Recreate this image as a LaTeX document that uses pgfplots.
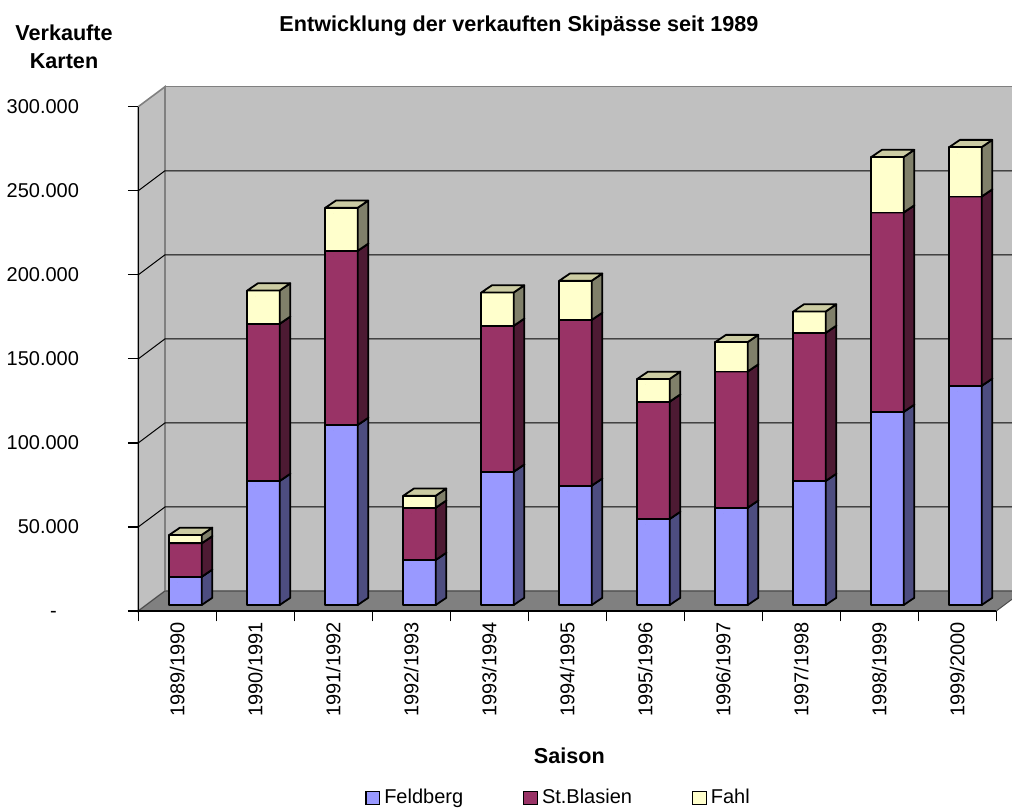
\documentclass[border=0pt]{standalone}
\usepackage{fontspec}
\setmainfont{Liberation Sans}
\usepackage{pgfplots}
\usepackage{pgfplotstable}
\pgfplotsset{compat=1.18}

\definecolor{feldF}{HTML}{9999FF}
\definecolor{feldS}{HTML}{4D4D80}
\definecolor{feldT}{HTML}{7A7ACC}
\definecolor{blasF}{HTML}{993366}
\definecolor{blasS}{HTML}{4D1A33}
\definecolor{blasT}{HTML}{7A2952}
\definecolor{fahlF}{HTML}{FFFFCC}
\definecolor{fahlS}{HTML}{80806A}
\definecolor{fahlT}{HTML}{CCCCA3}
\definecolor{wall}{HTML}{C0C0C0}
\definecolor{floorc}{HTML}{808080}

% segment values (sold passes) per season
\pgfplotstableread{
x Feldberg Blasien Fahl
0 16800 19900 5000
1 73800 93500 19800
2 107100 103600 25600
3 26800 31100 7100
4 79300 86800 19800
5 71000 98600 23300
6 51200 69800 13500
7 57900 81000 17500
8 73800 88100 12700
9 114900 118600 33000
10 130400 112600 29400
}\skidata
\pgfplotstablecreatecol[expr={\thisrow{Feldberg}+\thisrow{Blasien}}]{topB}\skidata
\pgfplotstablecreatecol[expr={\thisrow{Feldberg}+\thisrow{Blasien}+\thisrow{Fahl}}]{topA}\skidata

\pgfplotsset{
  bar3d/.style n args={3}{%
    forget plot,
    scatter, only marks, mark=*, mark size=0pt,
    mark options={draw=none, fill=none},
    point meta=explicit symbolic,
    scatter/@pre marker code/.code={%
      \begin{scope}[line width=0.9pt, line join=round]
        \filldraw[fill=#1, draw=black] ([shift={(4.1pt,3pt)}]axis direction cs:-0.2075,-\pgfplotspointmeta) rectangle ([shift={(4.1pt,3pt)}]axis direction cs:0.2075,0);
        \filldraw[fill=#2, draw=black] ([shift={(4.1pt,3pt)}]axis direction cs:0.2075,-\pgfplotspointmeta) -- ([shift={(4.1pt,3pt)}]axis direction cs:0.2075,0) -- ++(5.3pt,3.6pt) -- ([shift={(9.4pt,6.6pt)}]axis direction cs:0.2075,-\pgfplotspointmeta) -- cycle;
        \filldraw[fill=#3, draw=black] ([shift={(4.1pt,3pt)}]axis direction cs:-0.2075,0) -- ([shift={(4.1pt,3pt)}]axis direction cs:0.2075,0) -- ++(5.3pt,3.6pt) -- ([shift={(9.4pt,6.6pt)}]axis direction cs:-0.2075,0) -- cycle;
      \end{scope}
    },
    scatter/@post marker code/.code={},
  },
  sqlegend/.style={legend image code/.code={\draw[fill=#1, draw=black, line width=0.6pt] (0pt,-3.4pt) rectangle (6.8pt,3.4pt);}},
}

\begin{document}
\begin{tikzpicture}[font=\fontsize{10}{12}\selectfont]
\useasboundingbox (0,0) rectangle (506pt,405pt);
\begin{axis}[
  at={(69.15pt,99.5pt)}, anchor=south west,
  scale only axis, width=429pt, height=252.15pt,
  clip=false, axis on top,
  xmin=-0.5, xmax=10.5, ymin=0, ymax=300000,
  axis lines*=left,
  axis line style={black, line width=0.7pt},
  tick align=outside,
  major tick length=5.2pt,
  tick style={black, line width=0.6pt},
  scaled y ticks=false,
  ytick={0,50000,100000,150000,200000,250000,300000},
  yticklabels={{-\phantom{00}},50.000,100.000,150.000,200.000,250.000,300.000},
  yticklabel style={anchor=east, inner sep=0pt, xshift=-24.25pt},
  xtick={-0.5,0.5,1.5,2.5,3.5,4.5,5.5,6.5,7.5,8.5,9.5,10.5},
  xticklabels={,,,,,,,,,,,},
  xticklabel shift=5.5pt,
  extra x ticks={0,1,2,3,4,5,6,7,8,9,10},
  extra x tick labels={1989/1990,1990/1991,1991/1992,1992/1993,1993/1994,1994/1995,1995/1996,1996/1997,1997/1998,1998/1999,1999/2000},
  extra x tick style={major tick length=0pt, tick label style={rotate=90, anchor=east, inner sep=0pt}},
  tick label style={font=\fontsize{10}{12}\selectfont},
  legend columns=3,
  legend cell align=left,
  legend style={draw=none, fill=none, at={(axis description cs:0.2643,-0.3708)}, anchor=west,
    inner sep=0pt, font=\fontsize{10}{12}\selectfont,
    /tikz/every even column/.append style={column sep=28pt}},
]
% back wall, side wall, floor
\filldraw[fill=wall, draw=floorc, line width=0.8pt] ([shift={(13.35pt,10pt)}]rel axis cs:0,0) rectangle ([shift={(13.35pt,10pt)}]rel axis cs:1,1);
\filldraw[fill=wall, draw=floorc, line width=0.8pt] (rel axis cs:0,0) -- (rel axis cs:0,1) -- ++(13.35pt,10pt) -- ([shift={(13.35pt,10pt)}]rel axis cs:0,0) -- cycle;
\filldraw[fill=floorc, draw=black!70, line width=0.5pt] (rel axis cs:0,0) -- (rel axis cs:1,0) -- ++(13.35pt,10pt) -- ([shift={(13.35pt,10pt)}]rel axis cs:0,0) -- cycle;
\pgfplotsinvokeforeach{50000,100000,150000,200000,250000}{
  \draw[black, line width=0.5pt] (axis cs:-0.5,#1) -- ++(13.35pt,10pt) -- ([shift={(13.35pt,10pt)}]axis cs:10.5,#1);
}
\addplot[bar3d={feldF}{feldS}{feldT}] table[x=x, y=Feldberg, meta=Feldberg] {\skidata};
\addplot[bar3d={blasF}{blasS}{blasT}] table[x=x, y=topB, meta=Blasien] {\skidata};
\addplot[bar3d={fahlF}{fahlS}{fahlT}] table[x=x, y=topA, meta=Fahl] {\skidata};
\addlegendimage{sqlegend=feldF}
\addlegendentry{Feldberg}
\addlegendimage{sqlegend=blasF}
\addlegendentry{St.Blasien}
\addlegendimage{sqlegend=fahlF}
\addlegendentry{Fahl}
\end{axis}
\node[font=\bfseries\fontsize{10.8}{13}\selectfont, anchor=base] at (259.5pt,389.15pt) {Entwicklung der verkauften Skipässe seit 1989};
\node[font=\bfseries\fontsize{10.8}{13}\selectfont, anchor=base] at (32pt,384.65pt) {Verkaufte};
\node[font=\bfseries\fontsize{10.8}{13}\selectfont, anchor=base] at (32pt,370.85pt) {Karten};
\node[font=\bfseries\fontsize{10.8}{13}\selectfont, anchor=base] at (284.65pt,23.35pt) {Saison};
\end{tikzpicture}
\end{document}
